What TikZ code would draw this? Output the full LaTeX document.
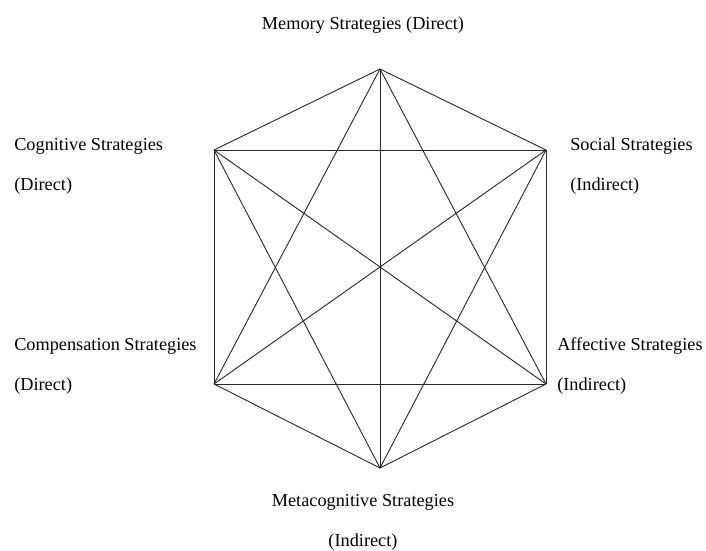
\documentclass[tikz,border=0pt]{standalone}
\usepackage{fontspec}
\setmainfont{Liberation Serif}
\usepackage{tikz}
\usetikzlibrary{positioning, calc}
\definecolor{edgegray}{RGB}{40, 40, 40}
\tikzstyle{label} = [inner sep=0pt, font=\fontsize{13}{28.5}\selectfont, text=black]
\tikzstyle{labelleft} = [label, align=left, anchor=west]
\tikzstyle{labelmid} = [label, align=center, anchor=center]
\tikzstyle{edge} = [draw=edgegray, line width=0.65pt]

\begin{document}
\begin{tikzpicture}[x=0.025cm, y=-0.025cm]
    \useasboundingbox (0,0) rectangle (706,551);

    % Vertices
    \coordinate (mem) at (380, 69);
    \coordinate (soc) at (546, 150);
    \coordinate (aff) at (546, 384);
    \coordinate (meta) at (380, 468);
    \coordinate (comp) at (214, 384);
    \coordinate (cog) at (214, 150);

    % Edges (every pair)
    \foreach \a/\b in {mem/soc, mem/aff, mem/meta, mem/comp, mem/cog,
                       soc/aff, soc/meta, soc/comp, soc/cog,
                       aff/meta, aff/comp, aff/cog,
                       meta/comp, meta/cog,
                       comp/cog}
        \draw[edge] (\a) -- (\b);

    % Labels
    \node[labelmid] (memlbl) at (363, 25) {Memory Strategies (Direct)};
    \node[labelleft] (coglbl) at (14, 166) {Cognitive Strategies\\(Direct)};
    \node[labelleft] (soclbl) at (570, 166) {Social Strategies\\(Indirect)};
    \node[labelleft] (complbl) at (14, 366) {Compensation Strategies\\(Direct)};
    \node[labelleft] (afflbl) at (557, 366) {Affective Strategies\\(Indirect)};
    \node[labelmid] (metalbl) at (363, 522) {Metacognitive Strategies\\(Indirect)};
\end{tikzpicture}
\end{document}
